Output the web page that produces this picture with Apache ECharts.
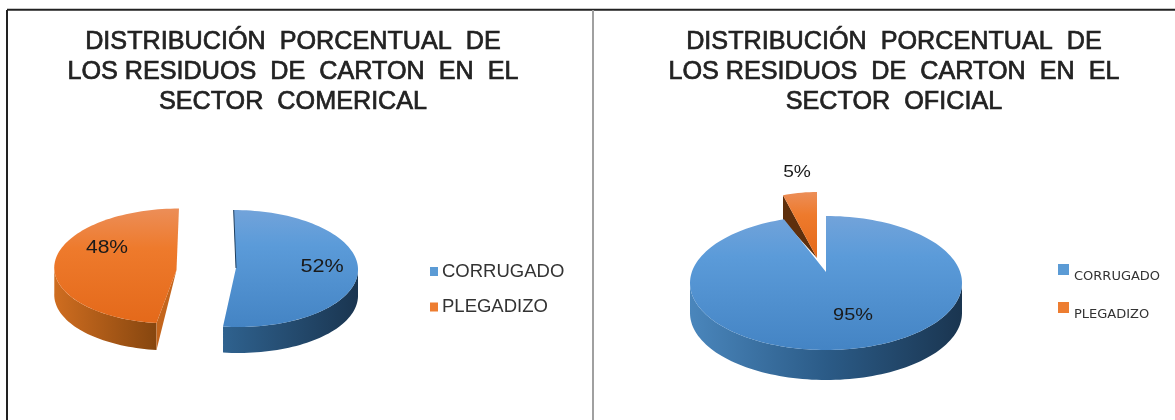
<!DOCTYPE html>
<html><head><meta charset="utf-8">
<style>html,body{margin:0;padding:0;background:#fff}#c{width:1175px;height:420px}</style>
<script src="https://cdn.jsdelivr.net/npm/echarts@6/dist/echarts.min.js"></script>
</head><body><div id="c"></div>
<script>
const categories = ['CORRUGADO', 'PLEGADIZO'];
const comercialValues = [52, 48];
const oficialValues = [95, 5];
const titleComercial = 'DISTRIBUCIÓN  PORCENTUAL  DE\nLOS RESIDUOS  DE  CARTON  EN  EL\nSECTOR  COMERICAL';
const titleOficial = 'DISTRIBUCIÓN  PORCENTUAL  DE\nLOS RESIDUOS  DE  CARTON  EN  EL\nSECTOR  OFICIAL';

const palette = {
  CORRUGADO: {
    legend: '#5b9bd5',
    top: [[0, '#72a3da'], [0.3, '#5b9bd9'], [1, '#4484c4']],
    side: [[0, '#2f628f'], [1, '#1a3550']],
    cut: '#1f3f5f'
  },
  PLEGADIZO: {
    legend: '#ed7d31',
    top: [[0, '#ec8e58'], [0.35, '#ee7a2c'], [1, '#e4691a']],
    side: [[0, '#cf6d20'], [1, '#86460f']],
    cut: '#c4651c'
  }
};

const layouts = {
  comercial: {
    slices: [
      { cx: 236, cy: 268.5, rx: 122, ry: 58.5, shear: 0.04, ax: 236, ay: 268, depth: 26, lx: 322, ly: 267, font: 18, lblScale: 1.2, cutLine: '#1f3f5f' },
      { cx: 175.3, cy: 266, rx: 121, ry: 57.5, shear: -0.064, ax: 176.5, ay: 270, depth: 27, lx: 107, ly: 248, font: 18, lblScale: 1.17 }
    ]
  },
  oficial: {
    slices: [
      { cx: 826, cy: 283, rx: 136, ry: 67, shear: 0, ax: 826, ay: 272, depth: 30, lx: 853, ly: 315, font: 17, lblScale: 1.17,
        side: [[0, '#4a86bc'], [0.5, '#2b5b87'], [1, '#1a3550']] },
      { cx: 817, cy: 258, rx: 110, ry: 66, shear: 0, ax: 817, ay: 258, depth: 25, lx: 797, ly: 173, font: 16, lblScale: 1.2, cutDark: '#5e2f0c' }
    ]
  }
};

function pt(s, deg) {
  const r = deg * Math.PI / 180;
  const y = -s.ry * Math.cos(r);
  return [s.cx + s.rx * Math.sin(r) + s.shear * y, s.cy + y];
}
function arc(s, a, b) {
  const pts = [];
  const n = Math.max(2, Math.ceil(Math.abs(b - a) / 2));
  for (let i = 0; i <= n; i++) pts.push(pt(s, a + (b - a) * i / n));
  return pts;
}
function grad(stops, horizontal) {
  return new echarts.graphic.LinearGradient(0, 0, horizontal ? 1 : 0, horizontal ? 0 : 1,
    stops.map(d => ({ offset: d[0], color: d[1] })));
}

function sliceSeries(key, values, idx) {
  const name = categories[idx];
  const s = layouts[key].slices[idx];
  const col = palette[name];
  return {
    type: 'custom',
    name,
    coordinateSystem: 'none',
    silent: true,
    z: idx === 0 ? 5 : 4,
    itemStyle: { color: col.legend },
    data: [[values[idx]]],
    renderItem(params, api) {
      const total = values.reduce((a, b) => a + b, 0);
      const before = values.slice(0, idx).reduce((a, b) => a + b, 0);
      const v = api.value(0);
      const a0 = before / total * 360, a1 = (before + v) / total * 360;
      const children = [];
      // outer wall: only the part of the rim facing the viewer
      const f0 = Math.max(a0, 90), f1 = Math.min(a1, 270);
      if (f1 > f0) {
        const rim = arc(s, f0, f1);
        const low = rim.slice().reverse().map(p => [p[0], p[1] + s.depth]);
        const stops = s.side || (idx === 0 ? col.side.slice().reverse() : col.side);
        children.push({
          type: 'polygon',
          shape: { points: rim.concat(low) },
          style: { fill: grad(stops, true) }
        });
      }
      // cut wall
      if (idx === 1) {
        const edge = pt(s, a0);
        children.push({
          type: 'polygon',
          shape: { points: [[s.ax, s.ay], edge, [edge[0], edge[1] + s.depth]] },
          style: { fill: s.cutDark || col.cut }
        });
      }
      // top face
      children.push({
        type: 'polygon',
        shape: { points: [[s.ax, s.ay]].concat(arc(s, a0, a1)) },
        style: { fill: grad(col.top, false) }
      });
      if (s.cutLine) {
        const e = pt(s, a0);
        children.push({
          type: 'line',
          shape: { x1: e[0], y1: e[1], x2: s.ax, y2: s.ay },
          style: { stroke: s.cutLine, lineWidth: 1 }
        });
      }
      children.push({
        type: 'text',
        x: s.lx, y: s.ly, scaleX: s.lblScale,
        style: {
          text: v + '%', fill: '#1a1a1a', align: 'center', verticalAlign: 'middle',
          font: s.font + 'px "Liberation Sans", sans-serif'
        }
      });
      return { type: 'group', children };
    }
  };
}

const titleStyle = {
  fontFamily: '"Liberation Sans", sans-serif', fontSize: 25.2, fontWeight: 'normal', color: '#222',
  lineHeight: 30, textBorderColor: '#222', textBorderWidth: 0.7
};

const option = {
  animation: false,
  backgroundColor: '#fff',
  title: [
    { text: titleComercial, left: 288, top: 22, textAlign: 'center', textStyle: titleStyle },
    { text: titleOficial, left: 889, top: 22, textAlign: 'center', textStyle: titleStyle }
  ],
  legend: [
    {
      data: categories, orient: 'vertical', left: 430, top: 262, itemGap: 16.5, padding: 0,
      itemWidth: 8, itemHeight: 9, icon: 'rect', selectedMode: false,
      itemStyle: { borderWidth: 0 },
      textStyle: { fontFamily: '"Liberation Sans", sans-serif', fontSize: 18.5, color: '#333', padding: [0, 0, 0, -1] }
    },
    {
      data: categories, orient: 'vertical', left: 1058, top: 264, itemGap: 19, padding: 0,
      itemWidth: 11, itemHeight: 11, icon: 'rect', selectedMode: false,
      itemStyle: { borderWidth: 0 },
      formatter: '{t|{name}}',
      textStyle: { rich: { t: { fontFamily: '"DejaVu Sans", sans-serif', fontSize: 13, color: '#333', padding: [14, 0, 0, 0] } } }
    }
  ],
  graphic: [
    { type: 'line', shape: { x1: 7, y1: 9.8, x2: 1175, y2: 9.8 }, style: { stroke: '#222', lineWidth: 2 }, silent: true },
    { type: 'line', shape: { x1: 7, y1: 10, x2: 7, y2: 420 }, style: { stroke: '#222', lineWidth: 2 }, silent: true },
    { type: 'line', shape: { x1: 593, y1: 10, x2: 593, y2: 420 }, style: { stroke: '#a0a0a0', lineWidth: 2 }, silent: true }
  ],
  series: [
    sliceSeries('comercial', comercialValues, 0),
    sliceSeries('comercial', comercialValues, 1),
    sliceSeries('oficial', oficialValues, 0),
    sliceSeries('oficial', oficialValues, 1)
  ]
};
echarts.init(document.getElementById('c'), null, { renderer: 'canvas' }).setOption(option);
</script></body></html>
